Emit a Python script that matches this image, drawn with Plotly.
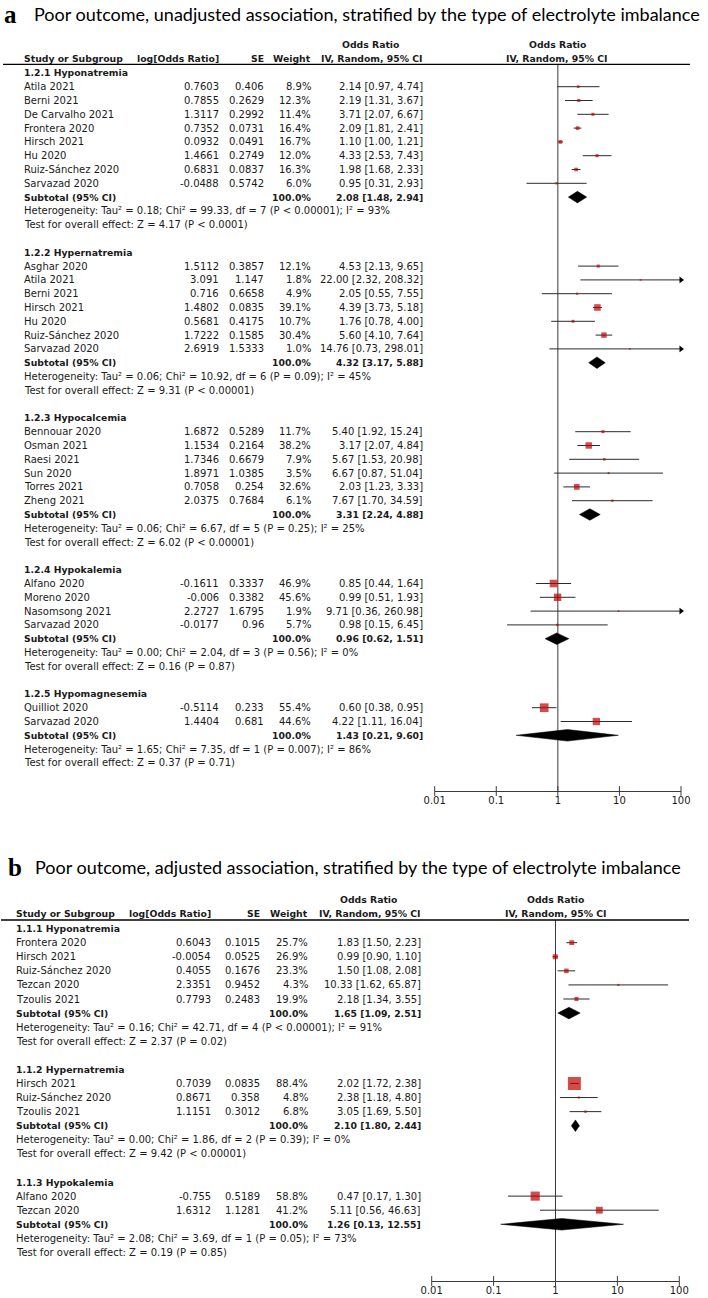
import plotly.graph_objects as go

W, H = 708, 1298

# ---------------- Panel a data ----------------
A_TITLE = "Poor outcome, unadjusted association, stratified by the type of electrolyte imbalance"
A_GROUPS = ["1.2.1 Hyponatremia", "1.2.2 Hypernatremia", "1.2.3 Hypocalcemia",
            "1.2.4 Hypokalemia", "1.2.5 Hypomagnesemia"]
A_GROUP = [0] * 8 + [1] * 7 + [2] * 6 + [3] * 4 + [4] * 2
A_STUDY = ["Atila 2021", "Berni 2021", "De Carvalho 2021", "Frontera 2020", "Hirsch 2021",
           "Hu 2020", "Ruiz-Sánchez 2020", "Sarvazad 2020",
           "Asghar 2020", "Atila 2021", "Berni 2021", "Hirsch 2021", "Hu 2020",
           "Ruiz-Sánchez 2020", "Sarvazad 2020",
           "Bennouar 2020", "Osman 2021", "Raesi 2021", "Sun 2020", "Torres 2021", "Zheng 2021",
           "Alfano 2020", "Moreno 2020", "Nasomsong 2021", "Sarvazad 2020",
           "Quilliot 2020", "Sarvazad 2020"]
A_LOGOR = [0.7603, 0.7855, 1.3117, 0.7352, 0.0932, 1.4661, 0.6831, -0.0488,
           1.5112, 3.091, 0.716, 1.4802, 0.5681, 1.7222, 2.6919,
           1.6872, 1.1534, 1.7346, 1.8971, 0.7058, 2.0375,
           -0.1611, -0.006, 2.2727, -0.0177,
           -0.5114, 1.4404]
A_SE = [0.406, 0.2629, 0.2992, 0.0731, 0.0491, 0.2749, 0.0837, 0.5742,
        0.3857, 1.147, 0.6658, 0.0835, 0.4175, 0.1585, 1.5333,
        0.5289, 0.2164, 0.6679, 1.0385, 0.254, 0.7684,
        0.3337, 0.3382, 1.6795, 0.96,
        0.233, 0.681]
A_WEIGHT = [8.9, 12.3, 11.4, 16.4, 16.7, 12.0, 16.3, 6.0,
            12.1, 1.8, 4.9, 39.1, 10.7, 30.4, 1.0,
            11.7, 38.2, 7.9, 3.5, 32.6, 6.1,
            46.9, 45.6, 1.9, 5.7,
            55.4, 44.6]
A_OR = [2.14, 2.19, 3.71, 2.09, 1.10, 4.33, 1.98, 0.95,
        4.53, 22.00, 2.05, 4.39, 1.76, 5.60, 14.76,
        5.40, 3.17, 5.67, 6.67, 2.03, 7.67,
        0.85, 0.99, 9.71, 0.98,
        0.60, 4.22]
A_LO = [0.97, 1.31, 2.07, 1.81, 1.00, 2.53, 1.68, 0.31,
        2.13, 2.32, 0.55, 3.73, 0.78, 4.10, 0.73,
        1.92, 2.07, 1.53, 0.87, 1.23, 1.70,
        0.44, 0.51, 0.36, 0.15,
        0.38, 1.11]
A_HI = [4.74, 3.67, 6.67, 2.41, 1.21, 7.43, 2.33, 2.93,
        9.65, 208.32, 7.55, 5.18, 4.00, 7.64, 298.01,
        15.24, 4.84, 20.98, 51.04, 3.33, 34.59,
        1.64, 1.93, 260.98, 6.45,
        0.95, 16.04]
A_SUB_OR = [2.08, 4.32, 3.31, 0.96, 1.43]
A_SUB_LO = [1.48, 3.17, 2.24, 0.62, 0.21]
A_SUB_HI = [2.94, 5.88, 4.88, 1.51, 9.60]
A_TAU2 = [0.18, 0.06, 0.06, 0.00, 1.65]
A_CHI2 = [99.33, 10.92, 6.67, 2.04, 7.35]
A_DF = [7, 6, 5, 3, 1]
A_PHET = ["< 0.00001", "= 0.09", "= 0.25", "= 0.56", "= 0.007"]
A_I2 = [93, 45, 25, 0, 86]
A_Z = [4.17, 9.31, 6.02, 0.16, 0.37]
A_PZ = ["< 0.0001", "< 0.00001", "< 0.00001", "= 0.87", "= 0.71"]

# ---------------- Panel b data ----------------
B_TITLE = "Poor outcome, adjusted association, stratified by the type of electrolyte imbalance"
B_GROUPS = ["1.1.1 Hyponatremia", "1.1.2 Hypernatremia", "1.1.3 Hypokalemia"]
B_GROUP = [0] * 5 + [1] * 3 + [2] * 2
B_STUDY = ["Frontera 2020", "Hirsch 2021", "Ruiz-Sánchez 2020", "Tezcan 2020", "Tzoulis 2021",
           "Hirsch 2021", "Ruiz-Sánchez 2020", "Tzoulis 2021",
           "Alfano 2020", "Tezcan 2020"]
B_LOGOR = [0.6043, -0.0054, 0.4055, 2.3351, 0.7793,
           0.7039, 0.8671, 1.1151,
           -0.755, 1.6312]
B_SE = [0.1015, 0.0525, 0.1676, 0.9452, 0.2483,
        0.0835, 0.358, 0.3012,
        0.5189, 1.1281]
B_WEIGHT = [25.7, 26.9, 23.3, 4.3, 19.9,
            88.4, 4.8, 6.8,
            58.8, 41.2]
B_OR = [1.83, 0.99, 1.50, 10.33, 2.18,
        2.02, 2.38, 3.05,
        0.47, 5.11]
B_LO = [1.50, 0.90, 1.08, 1.62, 1.34,
        1.72, 1.18, 1.69,
        0.17, 0.56]
B_HI = [2.23, 1.10, 2.08, 65.87, 3.55,
        2.38, 4.80, 5.50,
        1.30, 46.63]
B_SUB_OR = [1.65, 2.10, 1.26]
B_SUB_LO = [1.09, 1.80, 0.13]
B_SUB_HI = [2.51, 2.44, 12.55]
B_TAU2 = [0.16, 0.00, 2.08]
B_CHI2 = [42.71, 1.86, 3.69]
B_DF = [4, 2, 1]
B_PHET = ["< 0.00001", "= 0.39", "= 0.05"]
B_I2 = [91, 0, 73]
B_Z = [2.37, 9.42, 0.19]
B_PZ = ["= 0.02", "< 0.00001", "= 0.85"]

AXIS_TICKS = [0.01, 0.1, 1, 10, 100]
AXIS_LABELS = ["0.01", "0.1", "1", "10", "100"]

FONT = "DejaVu Sans"
TXT = "#1a1a1a"
RED = "#C00000"
LINE = "#2b2b2b"
FS = 10
FSB = 9.3

fig = go.Figure()
annotations = []
shapes = []
layout_axes = {}


def esc(s):
    return s.replace("<", "&lt;")


def panel(idx, title, label, groups, grp, study, logor, se, weight, orv, lo, hi,
          sor, slo, shi, tau2, chi2, df, phet, i2, z, pz, g):
    xa = "x" if idx == 1 else "x%d" % idx
    ya = "y" if idx == 1 else "y%d" % idx
    xkey = "xaxis" if idx == 1 else "xaxis%d" % idx
    ykey = "yaxis" if idx == 1 else "yaxis%d" % idx

    row0, pitch = g["row0"], g["pitch"]
    r_top = (g["top"] - row0) / pitch
    r_bot = (g["axis"] - row0) / pitch

    def px(x):
        return x / W

    def ann(text, x, y, anchor, bold=False, yref=ya):
        annotations.append(dict(
            text=("<b>%s</b>" % esc(text)) if bold else esc(text),
            x=px(x), y=y, xref="paper", yref=yref, xanchor=anchor, yanchor="middle",
            showarrow=False, font=dict(family=FONT, size=FSB if bold else FS, color=TXT)))

    def hdr(text, x, ypx, anchor):
        ann(text, x, 1 - ypx / H, anchor, bold=True, yref="paper")

    # title
    annotations.append(dict(text="<b>%s</b>" % label, x=px(g["lab_x"]), y=1 - g["title_y"] / H,
                            xref="paper", yref="paper", xanchor="left", yanchor="middle",
                            showarrow=False,
                            font=dict(family="Liberation Serif", size=25, color="black")))
    annotations.append(dict(text=title, x=px(g["title_x"]), y=1 - g["title_y"] / H,
                            xref="paper", yref="paper", xanchor="left", yanchor="middle",
                            showarrow=False, font=dict(family="Lato", size=g["title_fs"],
                                                       color="black")))

    # column headers
    c = g["cols"]
    h1 = row0 - 2.05 * pitch
    h2 = row0 - 1.05 * pitch
    hdr("Odds Ratio", c["or_c"], h1, "center")
    hdr("Odds Ratio", c["plot_c"], h1, "center")
    hdr("Study or Subgroup", c["name"], h2, "left")
    hdr("log[Odds Ratio]", c["logor"], h2, "right")
    hdr("SE", c["se"], h2, "right")
    hdr("Weight", c["w"], h2, "right")
    hdr("IV, Random, 95% CI", c["ci"], h2, "right")
    hdr("IV, Random, 95% CI", c["plot_c"], h2, "center")
    shapes.append(dict(type="line", xref="paper", yref="paper",
                       x0=px(g["hl0"]), x1=px(g["hl1"]),
                       y0=1 - g["top"] / H, y1=1 - g["top"] / H,
                       line=dict(color="black", width=1.3)))

    # rows
    srow = [0] * len(study)
    subrow = []
    r = 0
    for gi, gname in enumerate(groups):
        ann(gname, c["name"], r, "left", bold=True)
        r += 1
        for si in range(len(study)):
            if grp[si] == gi:
                srow[si] = r
                ann(study[si], c["name"], r, "left")
                ann(str(logor[si]), c["logor"], r, "right")
                ann(str(se[si]), c["se"], r, "right")
                ann("%.1f%%" % weight[si], c["w"], r, "right")
                ann("%.2f [%.2f, %.2f]" % (orv[si], lo[si], hi[si]), c["ci"], r, "right")
                r += 1
        subrow.append(r)
        ann("Subtotal (95% CI)", c["name"], r, "left", bold=True)
        ann("100.0%", c["w"], r, "right", bold=True)
        ann("%.2f [%.2f, %.2f]" % (sor[gi], slo[gi], shi[gi]), c["ci"], r, "right", bold=True)
        r += 1
        ann("Heterogeneity: Tau² = %.2f; Chi² = %.2f, df = %d (P %s); I² = %d%%"
            % (tau2[gi], chi2[gi], df[gi], phet[gi], i2[gi]), c["name"], r, "left")
        r += 1
        ann("Test for overall effect: Z = %.2f (P %s)" % (z[gi], pz[gi]), c["name"], r, "left")
        r += 2

    # null line
    fig.add_trace(go.Scatter(x=[1, 1], y=[r_top, r_bot], mode="lines", xaxis=xa, yaxis=ya,
                             line=dict(color="#3a3a3a", width=1), hoverinfo="skip",
                             showlegend=False, cliponaxis=False))
    # CI lines
    xs, ys = [], []
    ax, ay = [], []
    for si in range(len(study)):
        xs += [lo[si], min(hi[si], 100), None]
        ys += [srow[si], srow[si], None]
        if hi[si] > 100:
            ax.append(100)
            ay.append(srow[si])
    fig.add_trace(go.Scatter(x=xs, y=ys, mode="lines", xaxis=xa, yaxis=ya,
                             line=dict(color=LINE, width=1), showlegend=False,
                             hoverinfo="skip", cliponaxis=False))
    if ax:
        fig.add_trace(go.Scatter(x=ax, y=ay, mode="markers", xaxis=xa, yaxis=ya,
                                 marker=dict(symbol="triangle-right", size=6, color="black",
                                             line=dict(width=0)),
                                 showlegend=False, hoverinfo="skip", cliponaxis=False))
    # squares
    fig.add_trace(go.Scatter(x=orv, y=srow, mode="markers", xaxis=xa, yaxis=ya,
                             marker=dict(symbol="square", color=RED,
                                         size=[1.5 + 0.13 * w for w in weight],
                                         line=dict(width=0)),
                             showlegend=False, hoverinfo="skip", cliponaxis=False))
    # diamonds
    dx, dy = [], []
    hh = g["dh"] / pitch
    for gi in range(len(groups)):
        rr = subrow[gi]
        dx += [slo[gi], sor[gi], shi[gi], sor[gi], slo[gi], None]
        dy += [rr, rr - hh, rr, rr + hh, rr, None]
    fig.add_trace(go.Scatter(x=dx, y=dy, mode="lines", fill="toself", fillcolor="black",
                             xaxis=xa, yaxis=ya, line=dict(color="black", width=0.5),
                             showlegend=False, hoverinfo="skip", cliponaxis=False))
    # crossing tick marks
    fig.add_trace(go.Scatter(x=AXIS_TICKS, y=[r_bot] * len(AXIS_TICKS), mode="markers",
                             xaxis=xa, yaxis=ya,
                             marker=dict(symbol="line-ns", size=7,
                                         line=dict(width=1, color="#3a3a3a")),
                             showlegend=False, hoverinfo="skip", cliponaxis=False))

    layout_axes[xkey] = dict(type="log", range=[-2, 2], domain=[g["x01"] / W, g["x100"] / W],
                             anchor=ya, showgrid=False, zeroline=False, showline=True,
                             linecolor="#3a3a3a", linewidth=1, ticks="",
                             tickvals=AXIS_TICKS, ticktext=AXIS_LABELS, automargin=False,
                             tickfont=dict(family=FONT, size=FS, color=TXT), fixedrange=True)
    layout_axes[ykey] = dict(range=[r_bot, r_top], domain=[1 - g["axis"] / H, 1 - g["top"] / H],
                             anchor=xa, visible=False, fixedrange=True, automargin=False)


GA = dict(row0=72.9, pitch=13.8, top=64.3, axis=791, x01=434.7, x100=681, dh=5.8,
          hl0=3, hl1=690, title_y=14, lab_x=2, title_x=32, title_fs=18,
          cols=dict(name=22, logor=221, se=265.7, w=312.7, ci=425, or_c=370, plot_c=557.3))
GB = dict(row0=928.6, pitch=14.08, top=920, axis=1281, x01=431.7, x100=679.3, dh=5.8,
          hl0=1, hl1=689, title_y=867, lab_x=6, title_x=33, title_fs=18,
          cols=dict(name=14, logor=213.3, se=261.7, w=310, ci=422.7, or_c=368.5, plot_c=555.5))

panel(1, A_TITLE, "a", A_GROUPS, A_GROUP, A_STUDY, A_LOGOR, A_SE, A_WEIGHT, A_OR, A_LO, A_HI,
      A_SUB_OR, A_SUB_LO, A_SUB_HI, A_TAU2, A_CHI2, A_DF, A_PHET, A_I2, A_Z, A_PZ, GA)
panel(2, B_TITLE, "b", B_GROUPS, B_GROUP, B_STUDY, B_LOGOR, B_SE, B_WEIGHT, B_OR, B_LO, B_HI,
      B_SUB_OR, B_SUB_LO, B_SUB_HI, B_TAU2, B_CHI2, B_DF, B_PHET, B_I2, B_Z, B_PZ, GB)

fig.update_layout(width=W, height=H, margin=dict(l=0, r=0, t=0, b=0, autoexpand=False),
                  paper_bgcolor="white", plot_bgcolor="white", showlegend=False,
                  annotations=annotations, shapes=shapes, **layout_axes)

fig.write_html("out.html", config={"displayModeBar": False},
               post_script="document.body.style.margin='0';")
